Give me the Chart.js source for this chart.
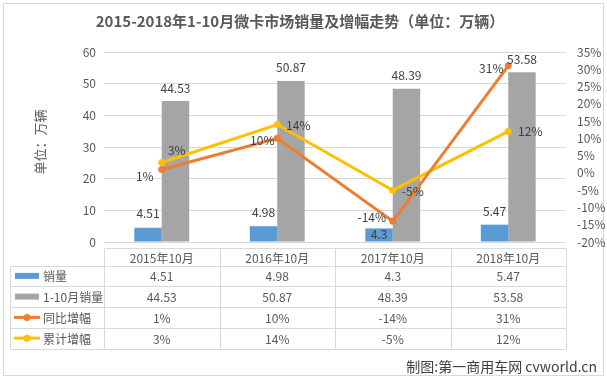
<!DOCTYPE html>
<html>
<head>
<meta charset="utf-8">
<script src="https://cdn.jsdelivr.net/npm/chart.js@4/dist/chart.umd.min.js"></script>
<style>
html,body{margin:0;padding:0;background:#fff;}
canvas{display:block;}
</style>
</head>
<body>
<canvas id="c" width="607" height="380"></canvas>
<script>
// ---- data ----
const categories = ['2015年10月', '2016年10月', '2017年10月', '2018年10月'];
const salesOct = [4.51, 4.98, 4.3, 5.47];
const salesJanOct = [44.53, 50.87, 48.39, 53.58];
const yoyGrowth = [1, 10, -14, 31];
const cumGrowth = [3, 14, -5, 12];
const seriesNames = ['销量', '1-10月销量', '同比增幅', '累计增幅'];
const leftTicks = [0, 10, 20, 30, 40, 50, 60];
const rightTicks = [-20, -15, -10, -5, 0, 5, 10, 15, 20, 25, 30, 35];
const titleText = '2015-2018年1-10月微卡市场销量及增幅走势（单位：万辆）';
const yTitle = '单位：万辆';
const footerText = '制图:第一商用车网 cvworld.cn';

// ---- styles ----
const FONT = '"Noto Sans CJK SC", "Noto Sans", sans-serif';
const colors = ['#5B9BD5', '#A5A5A5', '#ED7D31', '#FFC000'];
const textColor = '#595959';
const gridColor = '#D9D9D9';
// label offsets (dx, dy) relative to bar top / point
const labelOffsets = [
  [[0, -14], [0, -14], [0, 6], [0, -13]],
  [[0, -13], [0, -13], [0, -13], [0, -13]],
  [[-17, 7], [-15, 2], [-21, -4], [-17, 3]],
  [[15, -12], [21, 1], [20, 1], [22, 0]]
];
const fmt = [v => String(v), v => String(v), v => v + '%', v => v + '%'];

Chart.defaults.font.family = FONT;
Chart.defaults.color = textColor;

const decor = {
  id: 'decor',
  beforeDraw(chart) {
    const ctx = chart.ctx;
    ctx.save();
    ctx.fillStyle = '#fff';
    ctx.fillRect(0, 0, chart.width, chart.height);
    ctx.strokeStyle = gridColor;
    ctx.lineWidth = 1;
    ctx.strokeRect(3.5, 3.5, 600, 372);
    ctx.restore();
  },
  afterDraw(chart) {
    const ctx = chart.ctx;
    const xs = chart.scales.x;
    const ca = chart.chartArea;
    ctx.save();
    // title
    ctx.fillStyle = textColor;
    ctx.font = 'bold 15px ' + FONT;
    ctx.textAlign = 'center';
    ctx.textBaseline = 'middle';
    ctx.fillText(titleText, 300, 21);
    // y title
    ctx.save();
    ctx.translate(40, 142);
    ctx.rotate(-Math.PI / 2);
    ctx.font = '13px ' + FONT;
    ctx.fillText(yTitle, 0, 0);
    ctx.restore();

    // data labels
    ctx.font = '12px ' + FONT;
    ctx.fillStyle = '#404040';
    chart.data.datasets.forEach((ds, di) => {
      const meta = chart.getDatasetMeta(di);
      meta.data.forEach((el, i) => {
        const off = labelOffsets[di][i];
        ctx.fillText(fmt[di](ds.data[i]), el.x + off[0], el.y + off[1]);
      });
    });

    // data table
    const catW = (ca.right - ca.left) / categories.length;
    const tTop = 248.5, hBot = 265.5, rowH = 20.75;
    const rowsY = [hBot, hBot + rowH, hBot + 2 * rowH, hBot + 3 * rowH, hBot + 4 * rowH];
    const tLeft = 10.5, tRight = Math.round(ca.right) + 0.5;
    ctx.strokeStyle = gridColor;
    ctx.lineWidth = 1;
    ctx.beginPath();
    ctx.moveTo(Math.round(ca.left) + 0.5, tTop); ctx.lineTo(tRight, tTop);
    rowsY.forEach(y => { const yy = Math.round(y) + 0.5; ctx.moveTo(tLeft, yy); ctx.lineTo(tRight, yy); });
    const bottomY = Math.round(rowsY[4]) + 0.5;
    ctx.moveTo(tLeft, Math.round(hBot) + 0.5); ctx.lineTo(tLeft, bottomY);
    for (let i = 0; i <= categories.length; i++) {
      const x = Math.round(ca.left + i * catW) + 0.5;
      ctx.moveTo(x, tTop); ctx.lineTo(x, bottomY);
    }
    ctx.stroke();

    ctx.fillStyle = textColor;
    ctx.font = '12px ' + FONT;
    ctx.textAlign = 'center';
    categories.forEach((c, i) => ctx.fillText(c, xs.getPixelForValue(i), (tTop + hBot) / 2 + 1));
    const tableRows = [salesOct, salesJanOct, yoyGrowth, cumGrowth];
    tableRows.forEach((arr, r) => {
      const cy = hBot + rowH * r + rowH / 2 + 1;
      arr.forEach((v, i) => ctx.fillText(fmt[r](v), xs.getPixelForValue(i), cy));
      // legend key
      if (r < 2) {
        ctx.fillStyle = colors[r];
        ctx.fillRect(15, cy - 4, 24, 6);
      } else {
        ctx.strokeStyle = colors[r];
        ctx.lineWidth = 3;
        ctx.beginPath(); ctx.moveTo(14, cy - 1); ctx.lineTo(40, cy - 1); ctx.stroke();
        ctx.fillStyle = colors[r];
        ctx.beginPath(); ctx.arc(27, cy - 1, 3.5, 0, Math.PI * 2); ctx.fill();
      }
      ctx.fillStyle = textColor;
      ctx.textAlign = 'left';
      ctx.fillText(seriesNames[r], 43, cy);
      ctx.textAlign = 'center';
    });

    // footer
    ctx.fillStyle = '#404040';
    ctx.font = '14px ' + FONT;
    ctx.textAlign = 'right';
    ctx.fillText(footerText, 597, 367);
    ctx.restore();
  }
};

new Chart(document.getElementById('c'), {
  data: {
    labels: categories,
    datasets: [
      { type: 'bar', label: seriesNames[0], data: salesOct, backgroundColor: colors[0], yAxisID: 'y', order: 1,
        categoryPercentage: 0.475, barPercentage: 1.0 },
      { type: 'bar', label: seriesNames[1], data: salesJanOct, backgroundColor: colors[1], yAxisID: 'y', order: 1,
        categoryPercentage: 0.475, barPercentage: 1.0 },
      { type: 'line', label: seriesNames[2], data: yoyGrowth, borderColor: colors[2], backgroundColor: colors[2],
        yAxisID: 'y1', order: 0, borderWidth: 3, pointRadius: 3.5, pointBorderWidth: 0, tension: 0 },
      { type: 'line', label: seriesNames[3], data: cumGrowth, borderColor: colors[3], backgroundColor: colors[3],
        yAxisID: 'y1', order: 0, borderWidth: 3, pointRadius: 3.5, pointBorderWidth: 0, tension: 0 }
    ]
  },
  options: {
    responsive: false,
    animation: false,
    events: [],
    layout: { padding: { top: 52, bottom: 138, left: 0, right: 0 } },
    plugins: { legend: { display: false }, tooltip: { enabled: false }, title: { display: false } },
    scales: {
      x: { type: 'category', offset: true, display: false },
      y: {
        position: 'left', min: leftTicks[0], max: leftTicks[leftTicks.length - 1],
        afterBuildTicks: s => { s.ticks = leftTicks.map(v => ({ value: v })); },
        afterFit: s => { s.width = 104; },
        grid: { color: gridColor, drawTicks: false },
        border: { display: false },
        ticks: { padding: 8, color: textColor, font: { size: 12 }, autoSkip: false }
      },
      y1: {
        position: 'right', min: rightTicks[0], max: rightTicks[rightTicks.length - 1],
        afterBuildTicks: s => { s.ticks = rightTicks.map(v => ({ value: v })); },
        afterFit: s => { s.width = 41; },
        grid: { display: false, drawTicks: false },
        border: { display: false },
        ticks: { padding: 11, color: textColor, font: { size: 12 }, autoSkip: false, callback: v => v + '%' }
      }
    }
  },
  plugins: [decor]
});
</script>
</body>
</html>
